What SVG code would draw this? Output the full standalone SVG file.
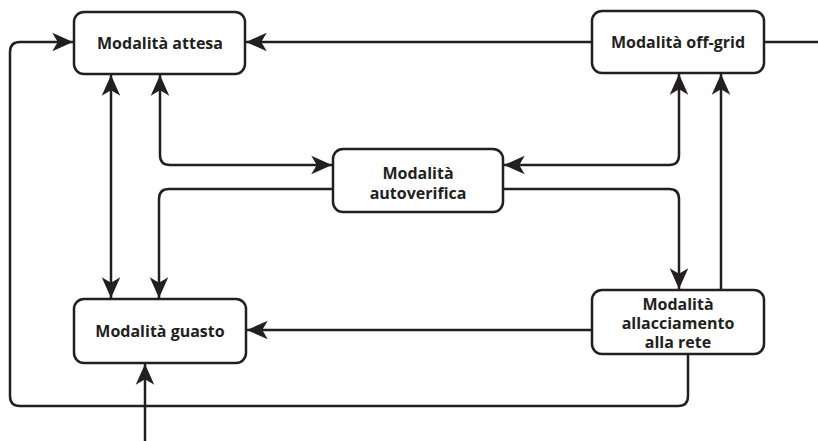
<svg xmlns="http://www.w3.org/2000/svg" width="818" height="441" viewBox="0 0 818 441">
<style>
.box{fill:#fff;stroke:#231f20;stroke-width:2.5}
.lbl{font-family:"Open Sans","Noto Sans",sans-serif;font-weight:bold;font-size:16px;fill:#231f20;text-anchor:middle}
.c{fill:none;stroke:#231f20;stroke-width:2.5}
</style>
<defs>
<marker id="ah" markerUnits="userSpaceOnUse" markerWidth="24" markerHeight="24" viewBox="-20 -10 22 20" refX="0" refY="0" orient="auto-start-reverse">
<path d="M0,0 L-19,-8.5 L-14,0 L-19,8.5 Z" fill="#231f20"/>
</marker>
</defs>
<rect width="818" height="441" fill="#fff"/>
<g id="connectors">
<path class="c" d="M592,42 H246" marker-end="url(#ah)"/>
<path class="c" d="M764,42 H818"/>
<path class="c" d="M688,354 V396 Q688,406 678,406 H20 Q10,406 10,396 V52 Q10,42 20,42 H73" marker-end="url(#ah)"/>
<path class="c" d="M111,75 V298" marker-start="url(#ah)" marker-end="url(#ah)"/>
<path class="c" d="M160,75 V155 Q160,165 170,165 H332" marker-start="url(#ah)" marker-end="url(#ah)"/>
<path class="c" d="M333,189 H169 Q159,189 159,199 V298" marker-end="url(#ah)"/>
<path class="c" d="M679,74 V155 Q679,165 669,165 H504" marker-start="url(#ah)" marker-end="url(#ah)"/>
<path class="c" d="M503,189 H669 Q679,189 679,199 V289" marker-end="url(#ah)"/>
<path class="c" d="M721,290 V74" marker-end="url(#ah)"/>
<path class="c" d="M592,330 H247" marker-end="url(#ah)"/>
<path class="c" d="M145,441 V364" marker-end="url(#ah)"/>
</g>
<g id="attesa">
<rect class="box" x="74" y="12" width="171" height="62" rx="10"/>
<text class="lbl" x="160" y="49">Modalità attesa</text>
</g>
<g id="offgrid">
<rect class="box" x="592" y="11" width="172" height="62" rx="10"/>
<text class="lbl" x="678" y="48">Modalità off-grid</text>
</g>
<g id="autoverifica">
<rect class="box" x="333" y="149" width="170" height="63" rx="10"/>
<text class="lbl" x="418" y="179">Modalità</text>
<text class="lbl" x="418" y="199">autoverifica</text>
</g>
<g id="guasto">
<rect class="box" x="74" y="299" width="172" height="64" rx="10"/>
<text class="lbl" x="160" y="337">Modalità guasto</text>
</g>
<g id="allacciamento">
<rect class="box" x="592" y="290" width="172" height="64" rx="10"/>
<text class="lbl" x="678" y="310">Modalità</text>
<text class="lbl" x="678" y="329">allacciamento</text>
<text class="lbl" x="678" y="348">alla rete</text>
</g>
</svg>
